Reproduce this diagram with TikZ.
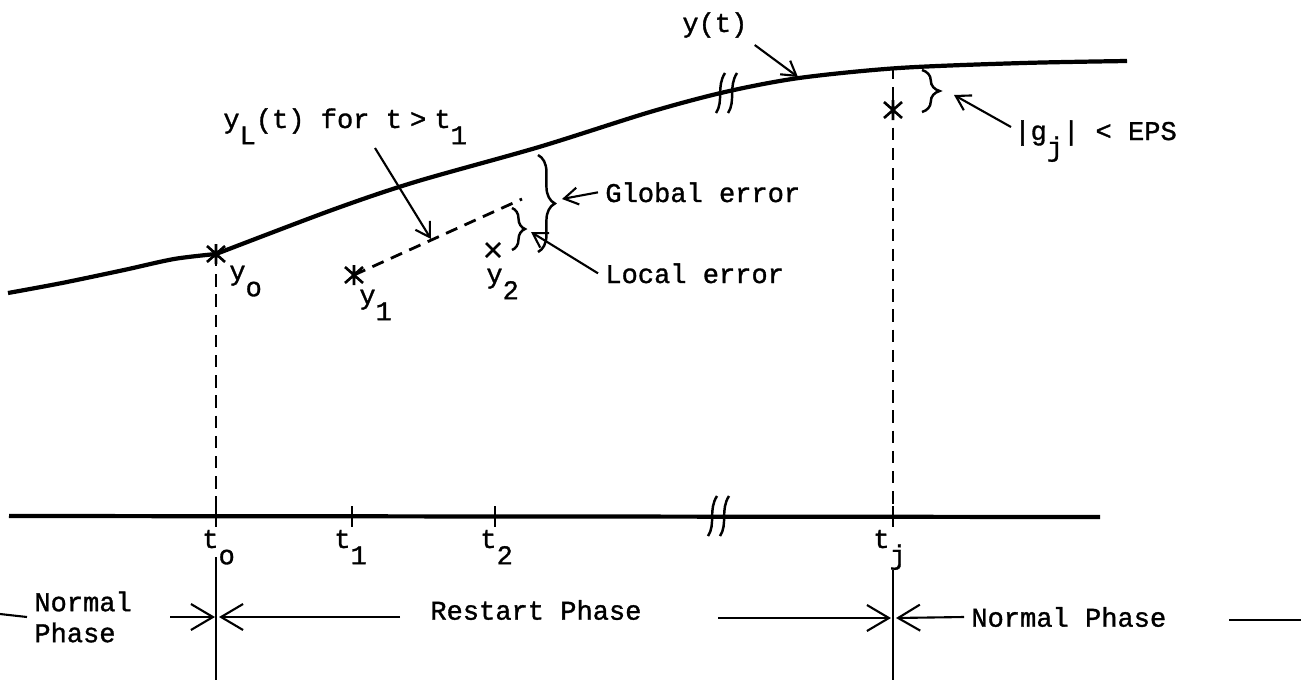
\documentclass[tikz,border=0pt]{standalone}
\usepackage{fontspec}
\setmonofont[FakeBold=1.2]{Liberation Mono}
\usetikzlibrary{arrows.meta,decorations.pathreplacing}

\newcommand{\dn}[1]{\raisebox{-0.6em}{#1}}

\tikzset{
	lbl/.style={font=\ttfamily\fontsize{15.4}{17.6}\selectfont, inner sep=4pt},
	arr/.style={line width=1.2pt, -{Straight Barb[length=2.8mm,width=3.4mm]}},
	bigarr/.style={line width=1.2pt, -{Straight Barb[length=4.4mm,width=5.2mm]}},
	dsh/.style={line width=1.6pt, dash pattern=on 7pt off 4.5pt},
	brc/.style={line width=1.4pt, decorate, decoration={brace, amplitude=#1}},
	xmark/.style={line width=1.5pt}
}

\begin{document}
\begin{tikzpicture}[x=0.02cm,y=-0.02cm]
	\useasboundingbox (0,0) rectangle (1301,680);

	% corba y(t)
	\draw[line width=2.4pt] plot[smooth] coordinates {(8,293) (62,283) (124,270) (174,259) (216,254)};
	\draw[line width=2.4pt] plot[smooth] coordinates {(216,254) (332,210) (415,182) (539,147) (650,112) (725,92) (799,78) (899,68) (1023,63) (1127,61)};

	% eix de temps
	\draw[line width=2.4pt] (9,516) -- (1100,517);
	\foreach \x in {216,352,495,893} {
		\draw[line width=1.4pt] (\x,506) -- (\x,527);
	}

	% talls
	\foreach \bx/\by in {727/93,719/516} {
		\foreach \o in {-6,6} {
			\draw[line width=1.4pt] (\bx+\o-5,\by+20) .. controls (\bx+\o+3,\by+8) and (\bx+\o-5,\by-6) .. (\bx+\o+4,\by-20);
		}
	}

	% punts
	\coordinate (Y0) at (216,254);
	\coordinate (Y1) at (354,275);
	\coordinate (Y2) at (493,250);
	\coordinate (YJ) at (893,110);
	\coordinate (CJ) at (893,67);
	\coordinate (YL) at (522,199);
	\coordinate (T0) at (216,516);
	\coordinate (TJ) at (893,516);

	\draw[dsh] (Y0) -- (T0);
	\draw[dsh] (CJ) -- (TJ);
	\draw[dsh] (Y1) -- (YL);

	\foreach \p in {Y0,Y1,YJ} {
		\draw[xmark] (\p) +(-9,-8) -- +(9,8) +(-9,8) -- +(9,-8) +(0,-10) -- +(0,10);
	}
	\draw[xmark] (Y2) +(-7,-7) -- +(7,7) +(-7,7) -- +(7,-7);

	% linies de fase
	\draw[line width=1.3pt] (216,557) -- (216,680);
	\draw[line width=1.3pt] (893,570) -- (893,680);

	% claus
	\draw[brc=9.6pt] (538,155) -- (538,252);
	\draw[brc=7.4pt] (512,208) -- (512,250);
	\draw[brc=10pt] (922,70) -- (922,112);

	% etiquetes
	\node[lbl, anchor=base west] (yt) at (675,32) {y(t)};
	\node[lbl, anchor=base west] (yl) at (216,128) {y\dn{L}(t) for t\hspace{0.3em}>\hspace{0.3em}t\dn{1}};
	\node[lbl, anchor=base west] (glob) at (598,202) {Global error};
	\node[lbl, anchor=base west] (loc) at (598,283) {Local error};
	\node[lbl, anchor=base west] (gj) at (1007,140) {|g\dn{j}| < EPS};
	\node[lbl, anchor=base west] (ly0) at (222,280) {y\dn{o}};
	\node[lbl, anchor=base west] (ly1) at (352,304) {y\dn{1}};
	\node[lbl, anchor=base west] (ly2) at (479,283) {y\dn{2}};
	\foreach \x/\s/\n in {195/o/t0,327/1/t1,473/2/t2,866/j/tj} {
		\node[lbl, anchor=base west] (l\n) at (\x,548) {t\dn{\s}};
	}

	% fletxes
	\coordinate (ytTip) at (798,77);
	\coordinate (ylTail) at (375,148);
	\coordinate (ylTip) at (431,239);
	\coordinate (gTip) at (562,199);
	\coordinate (lTip) at (531,232);
	\coordinate (gjTail) at (1011,127);
	\coordinate (gjTip) at (954,95);
	\draw[arr] (yt.south east) -- (ytTip);
	\draw[arr] (ylTail) -- (ylTip);
	\draw[arr] (glob.west) -- (gTip);
	\draw[arr] (loc.west) -- (lTip);
	\draw[arr] (gjTail) -- (gjTip);

	% fases
	\node[lbl, anchor=west, align=left] (np1) at (27,617) {Normal\\Phase};
	\node[lbl, anchor=west] (rp) at (423,610) {Restart Phase};
	\node[lbl, anchor=west] (np2) at (964,617) {Normal Phase};
	\coordinate (L0) at (0,614);
	\coordinate (R0) at (1229,620);
	\coordinate (R1) at (1301,620);
	\draw[line width=1.2pt] (L0) -- (np1.west);
	\draw[line width=1.2pt] (R0) -- (R1);

	\coordinate (a1) at (170,617);
	\coordinate (a2) at (400,617);
	\coordinate (a3) at (718,618);
	\coordinate (p1) at (215,617);
	\coordinate (p2) at (219,617);
	\coordinate (p3) at (891,618);
	\coordinate (p4) at (896,618);
	\foreach \a/\b in {a1/p1,a2/p2,a3/p3,np2.west/p4} {
		\draw[bigarr] (\a) -- (\b);
	}
\end{tikzpicture}
\end{document}
